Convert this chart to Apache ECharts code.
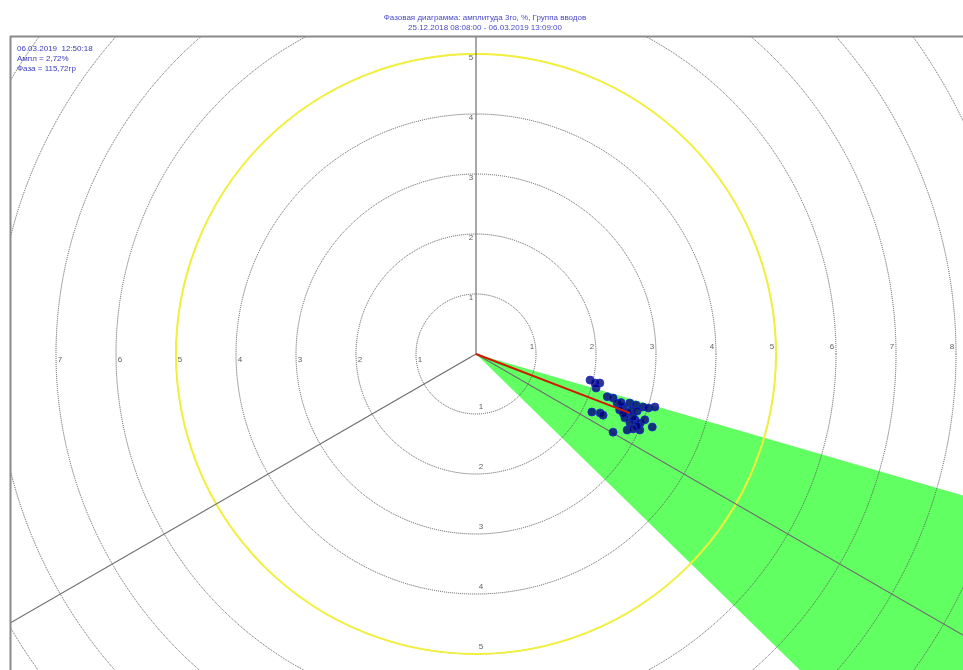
<!DOCTYPE html>
<html><head><meta charset="utf-8">
<script src="https://cdn.jsdelivr.net/npm/echarts@6/dist/echarts.min.js"></script>
<style>html,body{margin:0;padding:0;background:#fff}#c{width:963px;height:670px}</style>
</head><body><div id="c"></div>
<script>
// ---- data ----
const titleLine1 = 'Фазовая диаграмма: амплитуда 3го, %, Группа вводов';
const titleLine2 = '25.12.2018 08:08:00 - 06.03.2019 13:09:00';
const infoLines = ['06.03.2019  12:50:18', 'Ампл = 2,72%', 'Фаза = 115,72гр'];
const ringTicks = [1, 2, 3, 4, 5, 6, 7, 8, 9];
const limitRing = 5;                 // yellow limit circle
const phaseAxes = [90, 210, 330];    // reference phase rays (deg, math angle)
const sectorFrom = -44.3, sectorTo = -16.2; // green tolerance sector (deg)
const vectorAmp = 2.75, vectorPhase = -21;
const pointAmp = [1.95,2.04,2.12,2.08,2.30,2.40,2.49,2.61,2.69,2.80,2.70,2.87,2.97,2.81,2.82,2.92,3.01,3.11,3.18,2.16,2.29,2.35,2.63,2.82,3.01,2.57,2.70,2.94,3.02,2.75,2.85,2.65,2.90,2.55];
const pointPhase = [-12.9,-13.7,-13.2,-15.8,-18.0,-17.8,-19.2,-19.8,-17.7,-17.7,-21.3,-22.5,-22.8,-24.1,-21.9,-17.6,-17.4,-16.5,-22.5,-26.6,-25.4,-25.7,-29.7,-26.7,-24.9,-21.3,-23.2,-24.1,-21.3,-20.0,-19.5,-22.0,-25.5,-18.5];

const norm = a => ((a % 360) + 360) % 360;
const RMAX = 10;
const chart = echarts.init(document.getElementById('c'), null, {renderer: 'canvas'});

const labelDirs = [
  {ang: 0,   offset: [-4, -7]},
  {ang: 90,  offset: [-5, 4]},
  {ang: 180, offset: [4, 6]},
  {ang: 270, offset: [5, -7]}
];

const series = [];
// green sector
series.push({
  type: 'custom', coordinateSystem: 'polar', polarIndex: 0, z: 1, silent: true,
  data: [[norm(sectorFrom), norm(sectorTo), RMAX]],
  renderItem: function (params, api) {
    const cs = params.coordSys;
    const p1 = api.coord([api.value(2), api.value(0)]);
    const p2 = api.coord([api.value(2), api.value(1)]);
    const r = Math.hypot(p1[0] - cs.cx, p1[1] - cs.cy);
    const a1 = Math.atan2(p1[1] - cs.cy, p1[0] - cs.cx);
    const a2 = Math.atan2(p2[1] - cs.cy, p2[0] - cs.cx);
    return {type: 'sector', shape: {cx: cs.cx, cy: cs.cy, r0: 0, r: r,
      startAngle: Math.min(a1, a2), endAngle: Math.max(a1, a2), clockwise: true},
      style: {fill: '#62ff62'}};
  }
});
// phase rays
phaseAxes.forEach(a => series.push({
  type: 'line', coordinateSystem: 'polar', polarIndex: 0, symbol: 'none', silent: true, z: 12,
  lineStyle: {color: '#6e6e6e', width: 1.2},
  data: [[0, norm(a)], [RMAX, norm(a)]]
}));
// measured points
series.push({
  type: 'scatter', coordinateSystem: 'polar', polarIndex: 0, z: 14,
  symbol: 'circle', symbolSize: 8,
  itemStyle: {color: '#00007c', borderColor: '#1c2ccc', borderWidth: 1},
  data: pointAmp.map((r, i) => [r, norm(pointPhase[i])])
});
// current vector
series.push({
  type: 'line', coordinateSystem: 'polar', polarIndex: 0, symbol: 'none', z: 15, silent: true,
  lineStyle: {color: '#d01a00', width: 2},
  data: [[0, norm(vectorPhase)], [vectorAmp, norm(vectorPhase)]]
});
// ring labels
labelDirs.forEach(d => series.push({
  type: 'scatter', coordinateSystem: 'polar', polarIndex: 0, symbolSize: 0, z: 13, silent: true,
  label: {show: true, position: 'inside', offset: d.offset, formatter: p => String(p.value[0]),
    color: '#333', fontSize: 8, fontFamily: 'Liberation Sans'},
  data: ringTicks.map(k => [k, d.ang])
}));

const axisOff = {axisLine: {show: false}, axisTick: {show: false}, axisLabel: {show: false}, splitLine: {show: false}, splitArea: {show: false}};

chart.setOption({
  animation: false,
  backgroundColor: '#fff',
  title: [
    {text: titleLine1 + '\n' + titleLine2, left: 480, top: 8, textAlign: 'center', z: 200,
      textStyle: {fontSize: 8, fontWeight: 'normal', color: '#4a4ac8', lineHeight: 10, fontFamily: 'Liberation Sans'}},
    {text: infoLines.join('\n'), left: 12, top: 39, z: 200,
      textStyle: {fontSize: 8, fontWeight: 'normal', color: '#3a3ac0', lineHeight: 10, fontFamily: 'Liberation Sans'}}
  ],
  polar: [
    {center: [476, 354], radius: 600},
    {center: [476, 354], radius: 600}
  ],
  angleAxis: [
    Object.assign({polarIndex: 0, type: 'value', min: 0, max: 360, startAngle: 0, clockwise: false}, axisOff),
    Object.assign({polarIndex: 1, type: 'value', min: 0, max: 360, startAngle: 0, clockwise: false}, axisOff)
  ],
  radiusAxis: [
    {polarIndex: 0, type: 'value', min: 0, max: RMAX, interval: 1, z: 10,
      axisLine: {show: false}, axisTick: {show: false}, axisLabel: {show: false},
      splitLine: {show: true, lineStyle: {color: '#555', type: 'dotted', width: 1}}},
    {polarIndex: 1, type: 'value', min: 0, max: RMAX, interval: limitRing, z: 11,
      axisLine: {show: false}, axisTick: {show: false}, axisLabel: {show: false},
      splitLine: {show: true, lineStyle: {color: '#f2f03c', type: 'solid', width: 2}}}
  ],
  graphic: [
    {type: 'rect', shape: {x: 0, y: 0, width: 963, height: 36}, style: {fill: '#fff'}, z: 100, silent: true},
    {type: 'rect', shape: {x: 0, y: 0, width: 10, height: 670}, style: {fill: '#fff'}, z: 100, silent: true},
    {type: 'line', shape: {x1: 10, y1: 36.5, x2: 963, y2: 36.5}, style: {stroke: '#8a8a8a', lineWidth: 2}, z: 101, silent: true},
    {type: 'line', shape: {x1: 10.5, y1: 36, x2: 10.5, y2: 670}, style: {stroke: '#8a8a8a', lineWidth: 2}, z: 101, silent: true}
  ],
  series: series
});
</script></body></html>
